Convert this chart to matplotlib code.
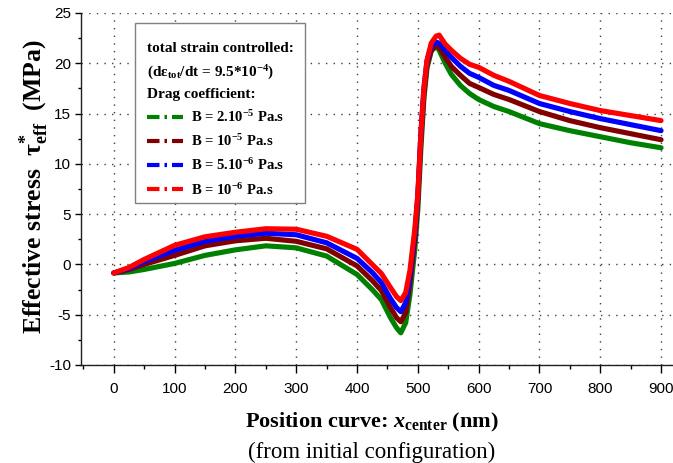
import matplotlib
matplotlib.use('Agg')
import matplotlib.pyplot as plt
from matplotlib.lines import Line2D
from matplotlib.patches import Rectangle
from matplotlib.ticker import MultipleLocator
from matplotlib.font_manager import FontProperties

plt.rcParams['font.family'] = 'Liberation Sans'
plt.rcParams['axes.unicode_minus'] = False
plt.rcParams['mathtext.fontset'] = 'custom'
plt.rcParams['mathtext.rm'] = 'Liberation Serif:bold'
plt.rcParams['mathtext.it'] = 'Liberation Serif:italic:bold'
plt.rcParams['mathtext.bf'] = 'Liberation Serif:bold'

# position of the curve centre (nm)
x_center = [0, 25, 50, 100, 150, 200, 250, 300, 350, 400, 425, 440, 455, 465, 472,
            480, 487, 495, 500, 505, 510, 515, 522, 530, 535, 545, 555, 570, 585,
            600, 625, 650, 700, 750, 800, 850, 900]

# effective stress (MPa) for each drag coefficient
tau_b2e5 = [-0.85, -0.75, -0.5, 0.1, 0.9, 1.45, 1.85, 1.65, 0.83, -1.0, -2.5, -3.5, -5.3, -6.3, -6.8,
            -5.8, -3.0, 1.5, 5.5, 11.5, 16.5, 19.5, 21.2, 21.7, 21.3, 20.0, 18.9, 17.8, 17.0,
            16.4, 15.7, 15.2, 14.0, 13.3, 12.7, 12.1, 11.6]
tau_b1e5 = [-0.85, -0.5, 0.0, 0.9, 1.85, 2.35, 2.6, 2.3, 1.55, -0.15, -1.6, -2.6, -4.3, -5.3, -5.7,
            -4.8, -1.8, 2.5, 6.5, 12.5, 17.0, 19.8, 21.3, 21.8, 21.6, 20.6, 19.7, 18.8, 18.0,
            17.6, 16.9, 16.4, 15.2, 14.3, 13.6, 13.0, 12.4]
tau_b5e6 = [-0.85, -0.4, 0.3, 1.4, 2.3, 2.8, 3.1, 2.95, 2.15, 0.6, -0.8, -1.8, -3.4, -4.3, -4.7,
            -3.8, -1.2, 3.0, 6.8, 13.0, 17.5, 20.2, 21.7, 22.1, 22.0, 21.3, 20.6, 19.7, 19.0,
            18.6, 17.8, 17.3, 16.0, 15.2, 14.5, 13.9, 13.3]
tau_b1e6 = [-0.85, -0.3, 0.5, 1.9, 2.75, 3.2, 3.55, 3.5, 2.8, 1.5, 0.0, -0.9, -2.3, -3.2, -3.6,
            -2.8, -0.6, 3.5, 7.0, 13.0, 17.5, 20.3, 22.0, 22.7, 22.8, 21.9, 21.3, 20.5, 19.9,
            19.6, 18.8, 18.2, 16.8, 16.0, 15.3, 14.8, 14.3]

series = [tau_b2e5, tau_b1e5, tau_b5e6, tau_b1e6]
colors = ['#008000', '#800000', '#0000ff', '#ff0000']
labels = [r'B = 2.10$^{-5}$ Pa.s', r'B = 10$^{-5}$ Pa.s',
          r'B = 5.10$^{-6}$ Pa.s', r'B = 10$^{-6}$ Pa.s']

W, H = 673, 463
fig = plt.figure(figsize=(W / 100, H / 100), dpi=100)
# axes box in pixels: left 81, right 672, top 13, bottom 365
ax = fig.add_axes([81 / W, (H - 365) / H, 591 / W, 352 / H])

for y, c in zip(series, colors):
    ax.plot(x_center, y, color=c, lw=3.7, solid_capstyle='round', solid_joinstyle='round')

ax.set_xlim(-54, 918)
ax.set_ylim(-10, 25)
ax.xaxis.set_major_locator(MultipleLocator(100))
ax.xaxis.set_minor_locator(MultipleLocator(50))
ax.yaxis.set_major_locator(MultipleLocator(5))
ax.yaxis.set_minor_locator(MultipleLocator(2.5))

for side in ['top', 'right']:
    ax.spines[side].set_visible(False)
for side in ['left', 'bottom']:
    ax.spines[side].set_color('#202020')
    ax.spines[side].set_linewidth(1.0)

ax.tick_params(axis='x', which='major', direction='out', length=6, width=1, pad=6, labelsize=11)
ax.tick_params(axis='x', which='minor', direction='out', length=3, width=1)
ax.tick_params(axis='y', which='major', direction='out', length=4, width=1, pad=3, labelsize=11)
ax.tick_params(axis='y', which='minor', direction='out', length=2.2, width=1)
ax.grid(True, which='major', color='#404040', lw=1.0, linestyle=(0, (1, 4.5)))
ax.set_axisbelow(True)

# legend frame drawn separately so its size can be set freely
ax.add_patch(Rectangle(((135 - 81) / 591, (365 - 203) / 352), 170 / 591, 180 / 352,
                       transform=ax.transAxes, facecolor='white', edgecolor='#808080',
                       lw=1.0, zorder=4.5))

handles = [Line2D([], [], color=c, lw=3, linestyle=(0, (3, 1.2, 0.6, 1.2))) for c in colors]
title = ('total strain controlled:\n'
         r'(d$\mathrm{\varepsilon}_{\mathrm{tot}}$/dt = 9.5*10$^{-4}$)' + '\n'
         'Drag coefficient:')
leg = ax.legend(handles, labels, loc='upper left',
                bbox_to_anchor=((147 - 81) / 591, (365 - 42) / 352),
                borderaxespad=0, borderpad=0, frameon=False,
                handlelength=2.5, handletextpad=0.5, labelspacing=0.56,
                prop=FontProperties(family='Liberation Serif', weight='bold', size=10.5),
                title=title,
                title_fontproperties=FontProperties(family='Liberation Serif', weight='bold', size=11),
                alignment='left')
leg.get_title().set_linespacing(1.65)
leg.set_zorder(5)

fig.text(34 / W, 1 - 187 / H, r'Effective stress  τ${}^{*}_{\mathrm{eff}}$  (MPa)',
         rotation=90, ha='center', va='center', family='Liberation Serif', weight='bold', size=18.5)
fig.text(372 / W, 1 - 427 / H, r'Position curve: $x_{\mathrm{center}}$ (nm)',
         ha='center', va='baseline', family='Liberation Serif', weight='bold', size=16)
fig.text(372 / W, 1 - 458 / H, '(from initial configuration)',
         ha='center', va='baseline', family='Liberation Serif', size=16.5)

fig.savefig('out.png', dpi=100)
